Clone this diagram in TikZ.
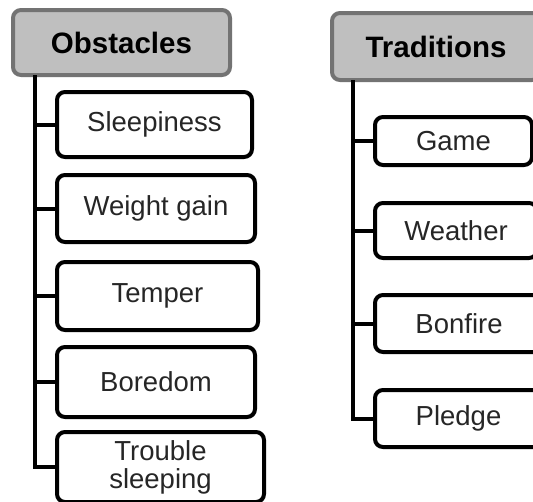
\documentclass[tikz,border=0pt]{standalone}
\usepackage{fontspec}
\setmainfont{Liberation Sans}
\tikzset{>=latex}
\tikzset{every text node part/.style={align=center}}
\tikzset{
	headbox/.style={draw=black!55, fill=black!25, line width=4pt, rounded corners=8pt,
		inner sep=0pt, font=\fontsize{29.5}{32}\selectfont\bfseries},
	itembox/.style={draw=black, fill=white, line width=4pt, rounded corners=8pt,
		inner sep=0pt, text=black!85, font=\fontsize{27.5}{28}\selectfont},
	trunk/.style={line width=4pt}
}

\begin{document}
\begin{tikzpicture}[x=1pt, y=-1pt]

\useasboundingbox (0,0) rectangle (533,501);
\clip (0,0) rectangle (533,501);

% Obstacles column
\node[headbox, minimum width=217, minimum height=65] (obst) at (121.5,42.5) {Obstacles};
\coordinate (obstroot) at (35,75);
\foreach \name/\y/\w/\h/\txt in {
	sleep/124.5/195/65/Sleepiness,
	weight/208.5/198/67/Weight gain,
	temper/296/201/68/Temper,
	boredom/382/198/70/Boredom,
	trouble/467/207/70/Trouble\\sleeping}
{
	\node[itembox, anchor=west, minimum width=\w, minimum height=\h] (\name) at (55,\y) {\txt};
	\draw[trunk] (obstroot |- \name.west) -- (\name.west);
}
\draw[trunk] (obstroot) |- (trouble.west);

% Traditions column
\node[headbox, minimum width=208, minimum height=67] (trad) at (436,46.5) {Traditions};
\coordinate (tradroot) at (353,80);
\foreach \name/\y/\w/\h/\txt in {
	game/141/157/48/Game,
	weather/230.5/162/55/Weather,
	bonfire/323.5/168/57/Bonfire,
	pledge/418.5/167/57/Pledge}
{
	\node[itembox, anchor=west, minimum width=\w, minimum height=\h] (\name) at (373,\y) {\txt};
	\draw[trunk] (tradroot |- \name.west) -- (\name.west);
}
\draw[trunk] (tradroot) |- (pledge.west);

\end{tikzpicture}
\end{document}
